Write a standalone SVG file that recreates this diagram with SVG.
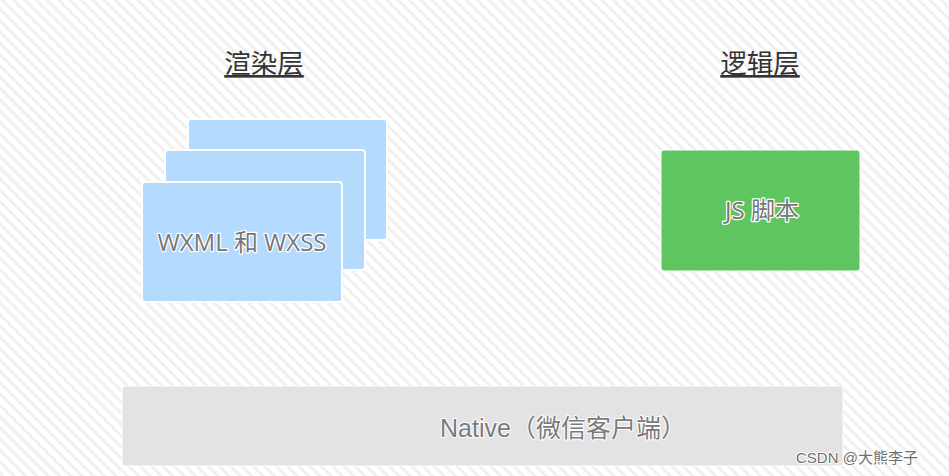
<svg xmlns="http://www.w3.org/2000/svg" width="949" height="476" viewBox="0 0 949 476">
<defs>
<pattern id="stripes" width="8" height="8" patternUnits="userSpaceOnUse" patternTransform="rotate(-45)">
<rect width="8" height="8" fill="#ffffff"/>
<rect x="0" y="0" width="3" height="8" fill="#f0f0f0"/>
</pattern>
<style>
.card{fill:#b4dafe;stroke:#ffffff;stroke-width:2}
.title{font-family:"Noto Sans CJK SC","Noto Sans",sans-serif;font-size:26.5px;fill:#333333;text-anchor:middle;text-decoration:underline}
.lbl{font-family:"Open Sans","Noto Sans CJK SC",sans-serif;font-size:24px;fill:#777777;text-anchor:middle;stroke:#ffffff;stroke-width:2.5;paint-order:stroke;stroke-linejoin:round}
.native{font-family:"Liberation Sans","Noto Sans CJK SC",sans-serif;font-size:25px;fill:#7a7a7a;text-anchor:middle;stroke:#ffffff;stroke-width:2;paint-order:stroke}
.wm{font-family:"Liberation Sans","Noto Sans CJK SC",sans-serif;font-size:15px;fill:#707070;stroke:#ffffff;stroke-width:2;paint-order:stroke}
</style>
</defs>
<rect width="949" height="476" fill="url(#stripes)"/>
<g id="title-render"><text class="title" x="264" y="73">渲染层</text></g>
<g id="title-logic"><text class="title" x="760" y="73">逻辑层</text></g>
<g id="render-cards">
<rect class="card" x="188" y="119" width="199" height="121" rx="3"/>
<rect class="card" x="165" y="150" width="200" height="120" rx="3"/>
<rect class="card" x="142" y="182" width="200" height="120" rx="3"/>
<text class="lbl" x="242" y="251">WXML 和 WXSS</text>
</g>
<g id="js">
<rect x="661" y="150" width="199" height="121" rx="3" fill="#5ec561" stroke="#ffffff" stroke-width="1"/>
<text class="lbl" x="762" y="219">JS 脚本</text>
</g>
<g id="native">
<rect x="122" y="386" width="721" height="80" rx="3" fill="#e3e3e3" stroke="#ffffff" stroke-width="1"/>
<text class="native" x="563" y="437">Native（微信客户端）</text>
</g>
<g id="connectors"></g>
<text class="wm" x="796" y="463">CSDN @大熊李子</text>
</svg>
